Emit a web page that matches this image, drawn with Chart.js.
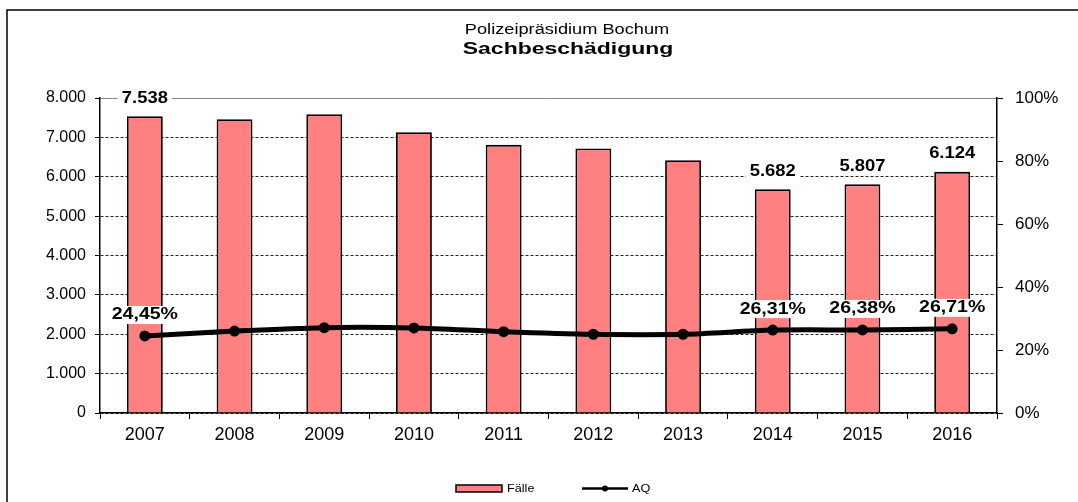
<!DOCTYPE html>
<html lang="de">
<head>
<meta charset="utf-8">
<title>Sachbeschädigung</title>
<script src="https://cdn.jsdelivr.net/npm/chart.js@4/dist/chart.umd.min.js"></script>
<style>
  html, body { margin: 0; padding: 0; background: #fff; }
  #wrap { position: relative; width: 1078px; height: 502px; }
</style>
</head>
<body>
<div id="wrap"><canvas id="chart"></canvas></div>
<script>
const years = ["2007", "2008", "2009", "2010", "2011", "2012", "2013", "2014", "2015", "2016"];
const faelle = [7538, 7460, 7590, 7130, 6810, 6720, 6420, 5682, 5807, 6124];
const aq = [24.45, 26.0, 27.1, 27.0, 25.8, 25.0, 25.0, 26.31, 26.38, 26.71];
const labeledYears = ["2007", "2014", "2015", "2016"];
const leftTicks = [0, 1000, 2000, 3000, 4000, 5000, 6000, 7000, 8000];
const rightTicks = [0, 20, 40, 60, 80, 100];
const titleText = "Polizeipräsidium Bochum";
const subtitleText = "Sachbeschädigung";

const FONT = "'Liberation Sans', Arial, sans-serif";

function formatCount(v) {
  return Number(v).toLocaleString("de-DE");
}

function formatPercent(v) {
  return v.toFixed(2).replace(".", ",") + "%";
}

// Text leicht in die Breite gezogen, wie im Original
function wideText(ctx, text, x, y, stretch) {
  ctx.save();
  ctx.translate(x, y);
  ctx.scale(stretch, 1);
  ctx.fillText(text, 0, 0);
  ctx.restore();
}

// Wertebeschriftungen mit weissem Hintergrund
const valueLabels = {
  id: "valueLabels",
  afterDatasetsDraw(chart) {
    const { ctx } = chart;
    ctx.save();
    ctx.font = `bold 16px ${FONT}`;
    ctx.textAlign = "center";
    ctx.textBaseline = "middle";
    chart.data.datasets.forEach((ds, di) => {
      const meta = chart.getDatasetMeta(di);
      meta.data.forEach((el, i) => {
        if (!labeledYears.includes(years[i])) return;
        const isLine = ds.type === "line";
        const text = isLine ? formatPercent(ds.data[i]) : formatCount(ds.data[i]);
        const y = isLine ? el.y - 21 : el.y - 18;
        const stretch = isLine ? 1.22 : 1.15;
        const w = ctx.measureText(text).width * stretch + 8;
        ctx.fillStyle = "#fff";
        ctx.fillRect(el.x - w / 2, y - 9, w, 18);
        ctx.fillStyle = "#000";
        wideText(ctx, text, el.x, y, stretch);
      });
    });
    ctx.restore();
  },
};

// Titel, Rahmen und Legende
const frameLegend = {
  id: "frameLegend",
  afterDraw(chart) {
    const { ctx } = chart;
    ctx.save();
    ctx.fillStyle = "#000";
    ctx.textAlign = "center";
    ctx.textBaseline = "middle";
    ctx.font = `14px ${FONT}`;
    wideText(ctx, titleText, 567, 30, 1.3);
    ctx.font = `bold 17px ${FONT}`;
    wideText(ctx, subtitleText, 568, 49, 1.35);

    ctx.strokeStyle = "#000";
    ctx.lineWidth = 1.5;
    ctx.beginPath();
    ctx.moveTo(7, 502);
    ctx.lineTo(7, 10);
    ctx.lineTo(1078, 10);
    ctx.stroke();

    const bar = chart.data.datasets[1];
    const line = chart.data.datasets[0];
    ctx.font = `11px ${FONT}`;
    ctx.textAlign = "left";

    ctx.fillStyle = bar.backgroundColor;
    ctx.fillRect(456, 485, 46, 7);
    ctx.lineWidth = 1.5;
    ctx.strokeRect(456, 485, 46, 7);
    ctx.fillStyle = "#000";
    wideText(ctx, bar.label, 507, 489, 1.15);

    ctx.strokeStyle = line.borderColor;
    ctx.lineWidth = 2.5;
    ctx.beginPath();
    ctx.moveTo(582, 488.5);
    ctx.lineTo(628, 488.5);
    ctx.stroke();
    ctx.beginPath();
    ctx.arc(605, 488.5, 3, 0, Math.PI * 2);
    ctx.fill();
    wideText(ctx, line.label, 632, 489, 1.15);
    ctx.restore();
  },
};

new Chart(document.getElementById("chart"), {
  data: {
    labels: years,
    datasets: [
      {
        type: "line",
        label: "AQ",
        data: aq,
        yAxisID: "y1",
        borderColor: "#000",
        backgroundColor: "#000",
        borderWidth: 5,
        pointRadius: 3,
        pointBackgroundColor: "#000",
        tension: 0.3,
        order: 0,
      },
      {
        type: "bar",
        label: "Fälle",
        data: faelle,
        yAxisID: "y",
        backgroundColor: "#FF8080",
        borderColor: "#000",
        borderWidth: 1.8,
        barPercentage: 0.4,
        categoryPercentage: 1,
        order: 1,
      },
    ],
  },
  options: {
    responsive: true,
    maintainAspectRatio: false,
    animation: false,
    layout: { padding: { top: 98, left: 0, right: 0, bottom: 59 } },
    plugins: {
      legend: { display: false },
      tooltip: { enabled: false },
    },
    scales: {
      x: {
        offset: true,
        grid: { offset: true, drawOnChartArea: false, tickLength: 6, tickColor: "#000", tickWidth: 1 },
        border: { color: "#000", width: 1.5 },
        ticks: { color: "#000", padding: 5, font: { family: FONT, size: 18 } },
        afterFit(scale) { scale.height = 30; },
      },
      y: {
        position: "left",
        min: 0,
        max: 8000,
        afterBuildTicks(scale) { scale.ticks = leftTicks.map((v) => ({ value: v })); },
        grid: {
          color: (c) => (c.tick && c.tick.value === 8000 ? "#888" : "#222"),
          lineWidth: 1,
          tickLength: 5,
          tickColor: "#000",
          tickBorderDash: [],
        },
        border: { color: "#000", width: 1.5, dash: (c) => (c.tick && c.tick.value === 8000 ? [] : [3, 2]) },
        ticks: { color: "#000", padding: 9, font: { family: FONT, size: 16 }, callback: (v) => formatCount(v) },
        afterFit(scale) { scale.width = 100; },
      },
      y1: {
        position: "right",
        min: 0,
        max: 100,
        afterBuildTicks(scale) { scale.ticks = rightTicks.map((v) => ({ value: v })); },
        grid: { drawOnChartArea: false, tickLength: 6, tickColor: "#000" },
        border: { color: "#000", width: 1.5 },
        ticks: { color: "#000", padding: 12, font: { family: FONT, size: 17 }, callback: (v) => v + "%" },
        afterFit(scale) { scale.width = 81; },
      },
    },
  },
  plugins: [valueLabels, frameLegend],
});
</script>
</body>
</html>
